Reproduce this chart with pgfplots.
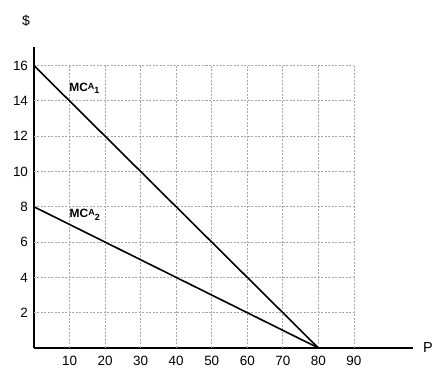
\documentclass[border=0pt]{standalone}
\usepackage{fontspec}
\setmainfont{Liberation Sans}
\usepackage{pgfplots}
\pgfplotsset{compat=1.18}
\newcommand{\mclabel}[1]{MC\raisebox{0.18em}{\fontsize{9}{10}\selectfont A}\raisebox{-0.22em}{\fontsize{9}{10}\selectfont #1}}
\begin{document}
\begin{tikzpicture}
\useasboundingbox (-34bp,-39bp) rectangle (414bp,348bp);
\begin{axis}[
  anchor=origin, at={(0,0)},
  x=3.555bp, y=17.65bp,
  xmin=0, xmax=106.5, ymin=0, ymax=17.05,
  axis lines*=left,
  axis line style={line width=2bp, black},
  xtick={10,20,...,90}, ytick={2,4,...,16},
  major tick length=0pt,
  tick style={draw=none},
  /pgf/number format/assume math mode=true,
  ticklabel style={font=\fontsize{13.5}{15}\selectfont},
  xticklabel style={yshift=-4.5bp},
  yticklabel style={xshift=-2.5bp},
  clip=false,
]
\foreach \i in {10,20,...,90} {
  \edef\tmp{\noexpand\draw[gray!70, line width=0.8bp, dash pattern=on 2bp off 1.5bp] (axis cs:\i,0) -- (axis cs:\i,16);}
  \tmp
}
\foreach \j in {2,4,...,16} {
  \edef\tmp{\noexpand\draw[gray!70, line width=0.8bp, dash pattern=on 2bp off 1.5bp] (axis cs:0,\j) -- (axis cs:90,\j);}
  \tmp
}
\addplot[black, line width=1.6bp, no marks] coordinates {(0,16) (80,0)};
\addplot[black, line width=1.6bp, no marks] coordinates {(0,8) (80,0)};
\node[anchor=base west, inner sep=0pt, font=\fontsize{12}{14}\selectfont\bfseries] at (axis cs:9.9,14.55) {\mclabel{1}};
\node[anchor=base west, inner sep=0pt, font=\fontsize{12}{14}\selectfont\bfseries] at (axis cs:10.0,7.4) {\mclabel{2}};
\node[font=\fontsize{14}{16}\selectfont] at (axis cs:-2.25,18.55) {\$};
\node[font=\fontsize{14.5}{16}\selectfont] at (axis cs:110.8,0) {P};
\end{axis}
\end{tikzpicture}
\end{document}
